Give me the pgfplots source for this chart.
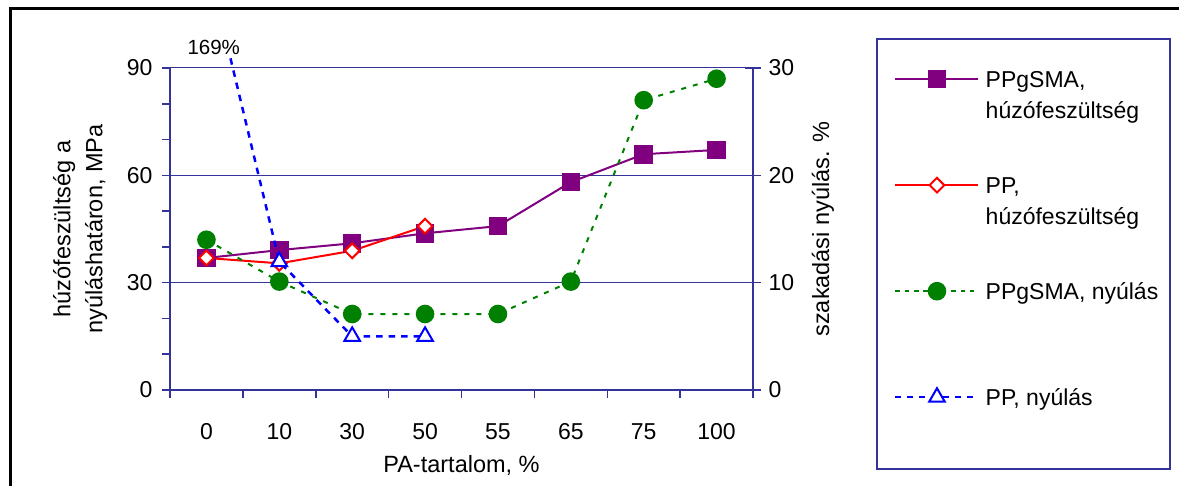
\documentclass[border=0pt]{standalone}
\usepackage{pgfplots}
\pgfplotsset{compat=1.18}
\usepackage{fontspec}
\setmainfont{Liberation Sans}
\definecolor{axnavy}{RGB}{51,51,153}
\definecolor{ppurple}{RGB}{128,0,128}
\definecolor{pgreen}{RGB}{0,128,0}
\newcommand\cf{\fontsize{23bp}{31bp}\selectfont}
\newcommand\lf{\fontsize{23.5bp}{32bp}\selectfont}
\begin{document}
\begin{tikzpicture}[x=1bp,y=1bp]
\useasboundingbox (0,0) rectangle (1179,486);
\draw[black, line width=3bp] (10,0) -- (10,477.5) -- (1179,477.5);
\draw[axnavy, line width=2bp] (877,447) rectangle (1170,17);
\pgfplotsset{
  common/.style={
    at={(170bp,96bp)}, anchor=south west,
    scale only axis, width=583bp, height=322bp,
    xmin=-0.5, xmax=7.5, clip=false,
    /pgf/number format/assume math mode=true,
    ticklabel style={font=\cf},
    axis line style={-, axnavy, line width=2bp},
  }
}
\begin{axis}[common,
  ymin=0, ymax=90,
  axis x line*=bottom, axis y line*=left,
  xtick={0,...,7},
  xticklabels={0,10,30,50,55,65,75,100},
  minor xtick={-0.5,0.5,...,7.5},
  ytick={0,30,60,90},
  minor ytick={10,20,40,50,70,80},
  tick align=outside,
  major tick length=8bp, minor tick length=8bp,
  every tick/.style={axnavy, line width=1.5bp},
  major x tick style={draw=none},
  xticklabel style={yshift=-22bp},
  yticklabel style={xshift=-6bp},
  ymajorgrids, major grid style={axnavy, line width=1bp},
  xlabel={PA-tartalom, \%},
  every axis x label/.style={at={(axis description cs:0.5,-0.236)}, anchor=center, font=\lf},
  ylabel={húzófeszültség a\\nyúláshatáron, MPa},
  every axis y label/.style={at={(axis description cs:-0.154,0.5)}, anchor=center, rotate=90, align=center, font=\lf},
]
% PPgSMA tensile stress
\addplot[ppurple, line width=2bp, mark=square*, mark size=8.3bp, mark options={fill=ppurple, draw=ppurple}]
  coordinates {(0,36.9) (1,39.1) (2,41.0) (3,43.8) (4,45.8) (5,58.1) (6,65.9) (7,67.1)};
% PP tensile stress
\addplot[red, line width=2bp, mark=square*, mark size=5.2bp, mark options={rotate=45, fill=white, draw=red, line width=2bp}]
  coordinates {(0,36.9) (1,35.4) (2,38.9) (3,45.8)};
\end{axis}
\begin{axis}[common,
  ymin=0, ymax=30,
  axis x line=none, axis y line*=right,
  xtick=\empty,
  ytick={0,10,20,30},
  tick align=center, major tick length=16bp,
  every tick/.style={axnavy, line width=1.5bp},
  yticklabel style={xshift=4bp},
  ylabel={szakadási nyúlás. \%},
  every axis y label/.style={at={(axis description cs:1.12,0.5)}, anchor=center, rotate=90, font=\lf},
  legend image code/.code={\draw[mark repeat=2,mark phase=2,#1] plot coordinates {(0bp,8bp) (41.5bp,8bp) (83bp,8bp)};},
  legend style={at={(axis description cs:1.2419,1.0084)}, anchor=north west,
    draw=none, fill=none, inner sep=0pt, font=\cf,
    row sep=44bp, column sep=6bp, nodes={inner sep=0pt, text depth=}, cells={anchor=base west}},
]
% PPgSMA elongation
\addplot[pgreen, line width=2bp, dash pattern=on 5bp off 7bp, mark=*, mark size=8.3bp, mark options={solid, fill=pgreen, draw=pgreen}, forget plot]
  coordinates {(0,14.0) (1,10.1) (2,7.08) (3,7.08) (4,7.08) (5,10.1) (6,27.0) (7,29.0)};
% PP elongation (first value 169 % off scale; line leaves the chart at the top)
\addplot[blue, line width=2.5bp, dash pattern=on 6.5bp off 6bp, forget plot]
  coordinates {(0.33,30.9) (1,11.95) (2,5.0) (3,5.0)};
\addplot[only marks, mark=triangle*, mark size=9bp, mark options={solid, fill=white, draw=blue, line width=2bp}, forget plot]
  coordinates {(1,11.95) (2,5.0) (3,5.0)};
\node[font=\fontsize{20.5bp}{24bp}\selectfont, anchor=base] at (axis cs:0.1,31.3) {169\%};
\addlegendimage{ppurple, line width=2bp, mark=square*, mark size=8.3bp, mark options={fill=ppurple, draw=ppurple}}
\addlegendentry{\begin{tabular}[t]{@{}l@{}}PPgSMA,\\húzófeszültség\end{tabular}}
\addlegendimage{red, line width=2bp, mark=square*, mark size=5.2bp, mark options={rotate=45, fill=white, draw=red, line width=2bp}}
\addlegendentry{\begin{tabular}[t]{@{}l@{}}PP,\\húzófeszültség\end{tabular}}
\addlegendimage{pgreen, line width=2bp, dash pattern=on 4.5bp off 4.8bp, mark=*, mark size=8.3bp, mark options={solid, fill=pgreen, draw=pgreen}}
\addlegendentry{\begin{tabular}[t]{@{}l@{}}PPgSMA, nyúlás\\\mbox{}\end{tabular}}
\addlegendimage{blue, line width=2.5bp, dash pattern=on 6bp off 6bp, mark=triangle*, mark size=9bp, mark options={solid, fill=white, draw=blue, line width=2bp}}
\addlegendentry{\begin{tabular}[t]{@{}l@{}}PP, nyúlás\\\mbox{}\end{tabular}}
\end{axis}
\end{tikzpicture}
\end{document}
